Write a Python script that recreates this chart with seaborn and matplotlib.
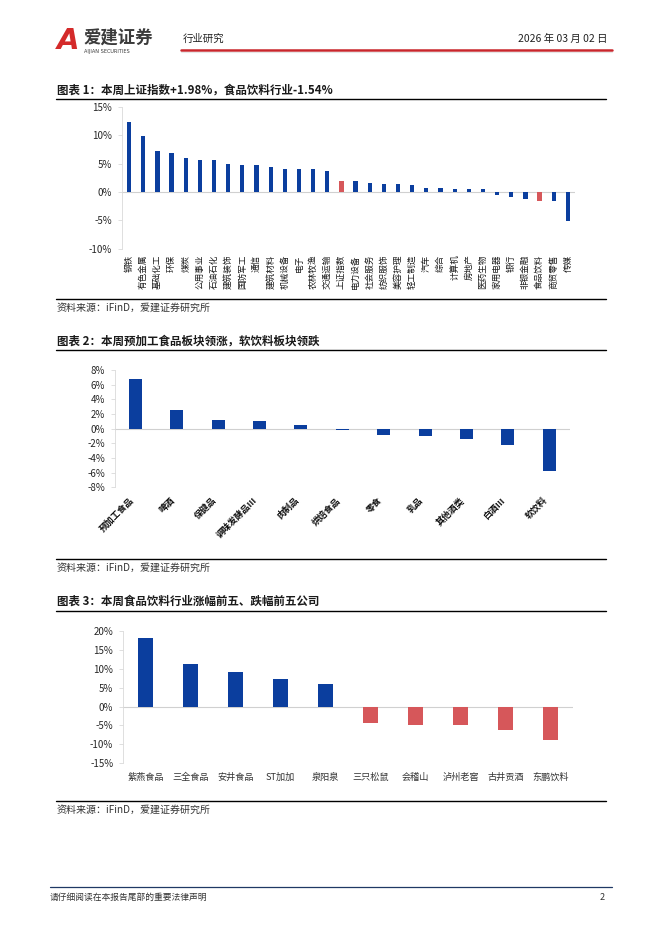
import matplotlib
matplotlib.use("Agg")
import matplotlib.pyplot as plt
from matplotlib.lines import Line2D
import seaborn as sns
import pandas as pd

# chart 1: weekly change by industry (%)
industries = ['钢铁', '有色金属', '基础化工', '环保', '煤炭', '公用事业', '石油石化', '建筑装饰',
              '国防军工', '通信', '建筑材料', '机械设备', '电子', '农林牧渔', '交通运输', '上证指数',
              '电力设备', '社会服务', '纺织服饰', '美容护理', '轻工制造', '汽车', '综合', '计算机',
              '房地产', '医药生物', '家用电器', '银行', '非银金融', '食品饮料', '商贸零售', '传媒']
industry_chg = [12.3, 9.8, 7.2, 6.9, 5.9, 5.6, 5.6, 4.9, 4.75, 4.75, 4.4, 4.05, 4.05, 4.05, 3.7, 1.98,
                1.9, 1.6, 1.4, 1.4, 1.2, 0.7, 0.7, 0.5, 0.5, 0.5, -0.45, -0.9, -1.2, -1.54, -1.55, -5.1]
highlight1 = ['上证指数', '食品饮料']
yticks1 = [-10, -5, 0, 5, 10, 15]

# chart 2: food & beverage sub-sectors (%)
subsectors = ['预加工食品', '啤酒', '保健品', '调味发酵品Ⅲ', '肉制品', '烘焙食品', '零食', '乳品',
              '其他酒类', '白酒Ⅲ', '软饮料']
subsector_chg = [6.77, 2.6, 1.18, 1.0, 0.55, -0.15, -0.8, -1.0, -1.45, -2.27, -5.8]
yticks2 = [-8, -6, -4, -2, 0, 2, 4, 6, 8]

# chart 3: top 5 gainers / losers (%)
companies = ['紫燕食品', '三全食品', '安井食品', 'ST加加', '泉阳泉', '三只松鼠', '会稽山', '泸州老窖',
             '古井贡酒', '东鹏饮料']
company_chg = [18.2, 11.3, 9.3, 7.4, 6.1, -4.35, -4.9, -4.9, -6.2, -8.9]
yticks3 = [-15, -10, -5, 0, 5, 10, 15, 20]

BLUE = '#0B3E9E'
RED = '#D6575A'
W, H = 662, 936

sns.set_theme(style="white")
plt.rcParams['font.family'] = ['Noto Sans CJK SC', 'DejaVu Sans']
plt.rcParams['axes.unicode_minus'] = False

fig = plt.figure(figsize=(W / 100, H / 100), dpi=100)


def fx(px):
    return px / W


def fy(py):
    return 1 - py / H


def hline(x0, x1, y, color='black', lw=1.0):
    fig.add_artist(Line2D([fx(x0), fx(x1)], [fy(y), fy(y)], transform=fig.transFigure,
                          color=color, lw=lw))


def make_ax(left, right, top, bottom):
    return fig.add_axes([fx(left), fy(bottom), fx(right) - fx(left), (bottom - top) / H])


def style_ax(ax, ticks, n):
    ax.set_xlim(-0.5, n - 0.5)
    ax.set_ylim(ticks[0], ticks[-1])
    ax.set_yticks(ticks)
    ax.set_yticklabels([f'{t}%' for t in ticks])
    ax.axhline(0, color='#D0D0D0', lw=0.8, zorder=0)
    for s in ['top', 'right', 'bottom']:
        ax.spines[s].set_visible(False)
    ax.spines['left'].set_color('#D9D9D9')
    ax.spines['left'].set_linewidth(0.6)
    ax.tick_params(axis='y', left=True, length=3, width=0.6, color='#D9D9D9', pad=4,
                   labelsize=7, labelcolor='#262626')
    ax.tick_params(axis='x', bottom=False, length=0)
    ax.set(xlabel='', ylabel='')
    ax.set_facecolor('none')


# header
fig.text(fx(57), fy(41), 'A', fontsize=21, fontweight='bold', style='italic', color='#D42A2A',
         va='center', ha='left', family=['DejaVu Sans'])
fig.text(fx(83), fy(38), '爱建证券', fontsize=12.5, fontweight='bold', color='#3A3A3A',
         va='center', ha='left')
fig.text(fx(84), fy(51), 'AIJIAN SECURITIES', fontsize=3.6, color='#3A3A3A', va='center', ha='left',
         family=['DejaVu Sans'])
fig.text(fx(183), fy(39), '行业研究', fontsize=7.5, color='#222222', va='center', ha='left')
fig.text(fx(607), fy(39), '2026 年 03 月 02 日', fontsize=7.5, color='#222222', va='center', ha='right')
hline(181, 612, 50, color='#C9262C', lw=1.8)
hline(181, 612, 52, color='#E6E6E6', lw=0.8)

# chart 1
fig.text(fx(57), fy(90), '图表 1：本周上证指数+1.98%，食品饮料行业-1.54%', fontsize=8.3,
         fontweight='bold', color='#1A1A1A', va='center', ha='left')
hline(56, 606, 99)
df1 = pd.DataFrame({'cat': industries, 'val': industry_chg,
                    'grp': ['hl' if c in highlight1 else 'base' for c in industries]})
ax1 = make_ax(122, 575, 106.7, 248.9)
sns.barplot(data=df1, x='cat', y='val', hue='grp', order=industries, palette={'base': BLUE, 'hl': RED},
            dodge=False, width=0.3, saturation=1, linewidth=0, legend=False, ax=ax1)
style_ax(ax1, yticks1, len(industries))
ax1.set_xticks(range(len(industries)))
ax1.set_xticklabels(industries, rotation=90, fontsize=6.2, color='#1A1A1A')
ax1.tick_params(axis='x', pad=4)
hline(56, 606, 299)
fig.text(fx(57), fy(308), '资料来源：iFinD，爱建证券研究所', fontsize=7.2, color='#333333',
         va='center', ha='left')

# chart 2
fig.text(fx(57), fy(341), '图表 2：本周预加工食品板块领涨，软饮料板块领跌', fontsize=8.3,
         fontweight='bold', color='#1A1A1A', va='center', ha='left')
hline(56, 606, 350)
ax2 = make_ax(114.6, 570, 370, 487.3)
sns.barplot(x=subsectors, y=subsector_chg, order=subsectors, color=BLUE, width=0.31, saturation=1,
            linewidth=0, ax=ax2)
style_ax(ax2, yticks2, len(subsectors))
ax2.set_xticks(range(len(subsectors)))
ax2.set_xticklabels(subsectors, rotation=45, ha='right', fontsize=6.4, fontweight='bold',
                    color='#111111')
ax2.tick_params(axis='x', pad=6)
hline(56, 606, 559)
fig.text(fx(57), fy(568), '资料来源：iFinD，爱建证券研究所', fontsize=7.2, color='#333333',
         va='center', ha='left')

# chart 3
fig.text(fx(57), fy(601), '图表 3：本周食品饮料行业涨幅前五、跌幅前五公司', fontsize=8.3,
         fontweight='bold', color='#1A1A1A', va='center', ha='left')
hline(56, 606, 610.7)
df3 = pd.DataFrame({'cat': companies, 'val': company_chg,
                    'grp': ['up' if v >= 0 else 'down' for v in company_chg]})
ax3 = make_ax(123, 573, 631.3, 763)
sns.barplot(data=df3, x='cat', y='val', hue='grp', order=companies, palette={'up': BLUE, 'down': RED},
            dodge=False, width=0.33, saturation=1, linewidth=0, legend=False, ax=ax3)
style_ax(ax3, yticks3, len(companies))
ax3.set_xticks(range(len(companies)))
ax3.set_xticklabels(companies, fontsize=6.6, color='#333333')
ax3.tick_params(axis='x', pad=7)
hline(56, 606, 801)
fig.text(fx(57), fy(810), '资料来源：iFinD，爱建证券研究所', fontsize=7.2, color='#333333',
         va='center', ha='left')

# footer
hline(50, 612, 887, color='#1F3864', lw=0.9)
fig.text(fx(50), fy(897), '请仔细阅读在本报告尾部的重要法律声明', fontsize=6.3, color='#333333',
         va='center', ha='left')
fig.text(fx(605), fy(897), '2', fontsize=6.5, color='#333333', va='center', ha='right')

fig.savefig('out.png', dpi=100)
